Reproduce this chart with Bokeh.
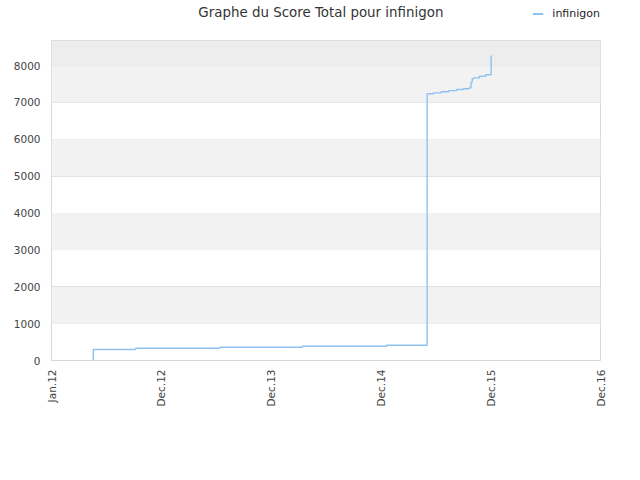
import pandas as pd
from bokeh.plotting import figure
from bokeh.layouts import column
from bokeh.models import (Range1d, FixedTicker, BoxAnnotation, Legend, LegendItem, Label)
from bokeh.embed import file_html
from bokeh.resources import INLINE
import math

# ---- data ----
title_text = "Graphe du Score Total pour infinigon"
series_name = "infinigon"

score_dates = ["2012-04-18", "2012-04-18", "2012-09-06", "2013-06-13", "2014-03-14",
               "2014-12-20", "2015-05-04", "2015-05-25", "2015-06-20", "2015-07-15",
               "2015-08-10", "2015-09-01", "2015-09-20", "2015-09-25", "2015-09-27",
               "2015-10-01", "2015-10-05", "2015-10-25", "2015-11-15", "2015-12-03",
               "2015-12-03"]
score_values = [0, 298, 333, 360, 388,
                415, 7236, 7260, 7290, 7320,
                7350, 7370, 7390, 7400, 7550,
                7640, 7665, 7710, 7750, 7780,
                8270]

tick_dates = ["2011-12-01", "2012-12-01", "2013-12-01", "2014-12-01", "2015-12-01", "2016-12-01"]
tick_labels = ["Jan.12", "Dec.12", "Dec.13", "Dec.14", "Dec.15", "Dec.16"]
y_ticks = [0, 1000, 2000, 3000, 4000, 5000, 6000, 7000, 8000]
y_max = 8680

# ---- styles ----
FONT = "DejaVu Sans"
TXT = "#444444"
LINE_COLOR = "#8ec2f2"
LINE_WIDTH = 1.4
W = 640
HEAD_H = 40

x = pd.to_datetime(score_dates)
tick_ms = [pd.Timestamp(d).value // 10**6 for d in tick_dates]

# ---- header (title + legend) ----
header = figure(output_backend="svg", toolbar_location=None,
                width=W, height=HEAD_H, min_border=0,
                x_range=Range1d(0, W), y_range=Range1d(HEAD_H, 0))
header.axis.visible = False
header.grid.visible = False
header.outline_line_color = None
header.background_fill_color = "white"
header.border_fill_color = "white"

header.add_layout(Label(x=314, y=11.5, text=title_text, text_align="center",
                        text_baseline="middle", text_font=FONT,
                        text_font_size="13.4px", text_color="#333333"))

legend_r = header.line(x=[-10, -5], y=[20, 20], line_color=LINE_COLOR,
                       line_width=LINE_WIDTH + 0.6)
legend = Legend(items=[LegendItem(label=series_name, renderers=[legend_r])],
                location="top_right",
                background_fill_color="white", background_fill_alpha=0.0,
                border_line_color=None,
                label_text_font=FONT, label_text_font_size="11px",
                label_text_color="#222222",
                glyph_width=11, glyph_height=27, label_height=27,
                label_standoff=9, padding=2, margin=0)
header.add_layout(legend)

# ---- main chart ----
p = figure(output_backend="svg", toolbar_location=None,
           x_axis_type="datetime",
           frame_width=549, frame_height=320,
           min_border_left=51, min_border_right=40,
           min_border_top=0, min_border_bottom=116,
           x_range=Range1d(tick_ms[0], tick_ms[-1]),
           y_range=Range1d(0, y_max))

p.background_fill_color = "white"
p.border_fill_color = "white"
p.outline_line_color = "#d8d8d8"

for i in range(1, len(y_ticks) - 1, 2):
    p.add_layout(BoxAnnotation(bottom=y_ticks[i], top=y_ticks[i + 1],
                               fill_color="#f2f2f2", fill_alpha=1.0,
                               line_color=None, level="underlay"))
p.add_layout(BoxAnnotation(bottom=y_ticks[-1], top=y_max,
                           fill_color="#ededed", fill_alpha=1.0,
                           line_color=None, level="underlay"))

p.xgrid.grid_line_color = None
p.ygrid.grid_line_color = "#dddddd"
p.ygrid.ticker = FixedTicker(ticks=y_ticks)

p.step(x, score_values, mode="after", line_color=LINE_COLOR, line_width=LINE_WIDTH)

p.yaxis.ticker = FixedTicker(ticks=y_ticks)
p.xaxis.ticker = FixedTicker(ticks=tick_ms)
p.xaxis.major_label_overrides = {t: l for t, l in zip(tick_ms, tick_labels)}
for ax in (p.xaxis[0], p.yaxis[0]):
    ax.axis_line_color = None
    ax.major_tick_line_color = None
    ax.minor_tick_line_color = None
    ax.major_tick_out = 0
    ax.major_tick_in = 0
    ax.minor_tick_out = 0
    ax.major_label_text_font = FONT
    ax.major_label_text_font_size = "10.5px"
    ax.major_label_text_color = TXT
p.yaxis.major_label_standoff = 11
p.xaxis.major_label_standoff = 9
p.xaxis.major_label_orientation = math.pi / 2

layout = column(header, p, spacing=0)
open("out.html", "w").write(file_html(layout, INLINE))
